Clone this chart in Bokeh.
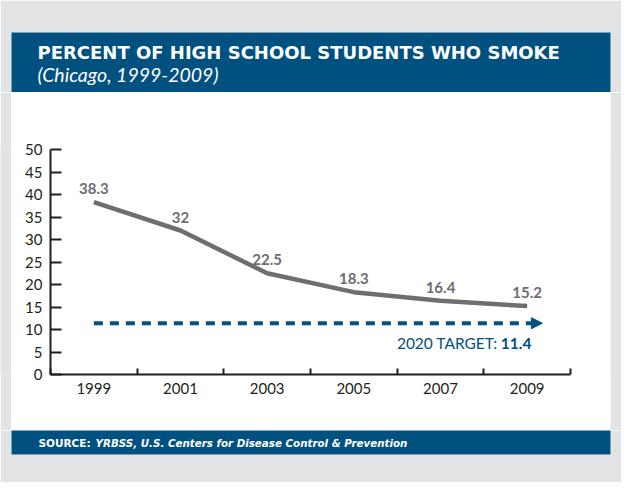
from bokeh.plotting import figure
from bokeh.models import Label, Arrow, NormalHead, FixedTicker, Range1d
from bokeh.layouts import column, row
from bokeh.embed import file_html
from bokeh.resources import INLINE
from bokeh.core.properties import value

# ---- data ----
years = [1999, 2001, 2003, 2005, 2007, 2009]
percent = [38.3, 32, 22.5, 18.3, 16.4, 15.2]
point_labels = ["38.3", "32", "22.5", "18.3", "16.4", "15.2"]
target_value = 11.4
target_label = "2020 TARGET:"
target_value_label = "11.4"
y_ticks = [0, 5, 10, 15, 20, 25, 30, 35, 40, 45, 50]
x_minor_ticks = [1998, 2000, 2002, 2004, 2006, 2008, 2010]
x_unit_label = "YR"
title_text = "PERCENT OF HIGH SCHOOL STUDENTS WHO SMOKE"
subtitle_text = "(Chicago, 1999-2009)"
source_bold = "SOURCE:"
source_text = "YRBSS, U.S. Centers for Disease Control & Prevention"

BLUE = "#00517f"
GRAY_LINE = "#6d6e71"
BG = "#e2e3e5"
INK = "#231f20"

W = 621
SIDE = 11
PW = W - 2 * SIDE  # 599 panel width


def blank(width, height, fill, top=0, bottom=0, left=0, right=0, border=BG):
    f = figure(width=width, height=height, output_backend="svg", toolbar_location=None,
               x_axis_type=None, y_axis_type=None,
               x_range=Range1d(0, max(width - left - right, 1)),
               y_range=Range1d(0, max(height - top - bottom, 1)),
               min_border_left=left, min_border_right=right,
               min_border_top=top, min_border_bottom=bottom)
    f.border_fill_color = border
    f.background_fill_color = fill
    f.outline_line_color = None
    f.xgrid.visible = False
    f.ygrid.visible = False
    return f


# ---- header (panel top at fig y 32, header bottom at 92) ----
header = blank(W, 92, BLUE, top=32, left=SIDE, right=SIDE)
header.add_layout(Label(x=26, y=40, text=title_text, text_align="left",
                        text_baseline="middle", text_font="DejaVu Sans",
                        text_font_style="bold", text_font_size="18px",
                        text_color="white"))
header.add_layout(Label(x=26, y=18, text=subtitle_text, text_align="left",
                        text_baseline="middle", text_font="Lato",
                        text_font_style="italic", text_font_size="19.5px",
                        text_color="white"))

# ---- main chart ----
MH = 338
X0, X1, Y0, Y1 = 1998, 2010, 0, 50
p = figure(width=PW, height=MH, output_backend="svg", toolbar_location=None,
           x_range=Range1d(X0, X1), y_range=Range1d(Y0, Y1),
           min_border_left=39, min_border_right=40,
           min_border_top=57, min_border_bottom=56)
p.border_fill_color = "white"
p.background_fill_color = "white"
p.outline_line_color = None
p.xgrid.visible = False
p.ygrid.visible = False

xa = p.xaxis[0]
xa.ticker = FixedTicker(ticks=years, minor_ticks=x_minor_ticks)
xa.major_tick_in = 0
xa.major_tick_out = 0
xa.minor_tick_in = 6
xa.minor_tick_out = 0
xa.minor_tick_line_color = INK
xa.minor_tick_line_width = 2
xa.axis_line_color = INK
xa.axis_line_width = 2
xa.major_label_text_font = "Lato"
xa.major_label_text_font_size = "15px"
xa.major_label_text_color = INK
xa.major_label_standoff = 8

ya = p.yaxis[0]
ya.ticker = FixedTicker(ticks=y_ticks)
ya.major_tick_in = 11
ya.major_tick_out = 0
ya.major_tick_line_color = INK
ya.major_tick_line_width = 2
ya.minor_tick_line_color = None
ya.axis_line_color = INK
ya.axis_line_width = 2
ya.major_label_text_font = "Lato"
ya.major_label_text_font_size = "15px"
ya.major_label_text_color = INK
ya.major_label_standoff = 8

p.line(years, percent, line_width=4.5, line_color=GRAY_LINE)
p.text(x=years, y=percent, text=point_labels, y_offset=-8,
       text_align="center", text_baseline="bottom",
       text_font=value("Lato"), text_font_style="bold",
       text_font_size="15px", text_color=GRAY_LINE)

p.add_layout(Arrow(end=NormalHead(size=11, fill_color=BLUE, line_color=BLUE, line_width=1),
                   x_start=years[0], y_start=target_value,
                   x_end=2009.35, y_end=target_value,
                   line_color=BLUE, line_width=4, line_dash="9 7"))
p.add_layout(Label(x=2009.33, y=6.9, x_offset=-10, text=target_value_label, text_align="right",
                   text_baseline="middle", text_font="Lato", text_font_style="bold",
                   text_font_size="15.5px", text_color=BLUE))
p.add_layout(Label(x=2009.33, y=6.9, x_offset=-44, text=target_label, text_align="right",
                   text_baseline="middle", text_font="Lato",
                   text_font_size="15.5px", text_color=BLUE))
p.add_layout(Label(x=X1, y=0, x_offset=10, text=x_unit_label, text_align="left",
                   text_baseline="middle", text_font="Lato",
                   text_font_size="15px", text_color=INK))

side_l = blank(SIDE, MH, BG)
side_r = blank(SIDE, MH, BG)

# ---- footer (fig y 430..454 blue, then gray to 482) ----
footer = blank(W, 52, BLUE, bottom=28, left=SIDE, right=SIDE)
footer.add_layout(Label(x=27, y=12, text=source_bold, text_align="left",
                        text_baseline="middle", text_font="DejaVu Sans",
                        text_font_style="bold", text_font_size="10.5px",
                        text_color="white"))
footer.add_layout(Label(x=27, y=12, x_offset=57, text=source_text, text_align="left",
                        text_baseline="middle", text_font="DejaVu Sans",
                        text_font_style="bold italic", text_font_size="10.3px",
                        text_color="white"))

layout = column(header, row(side_l, p, side_r), footer)
open("out.html", "w").write(file_html(layout, INLINE))
